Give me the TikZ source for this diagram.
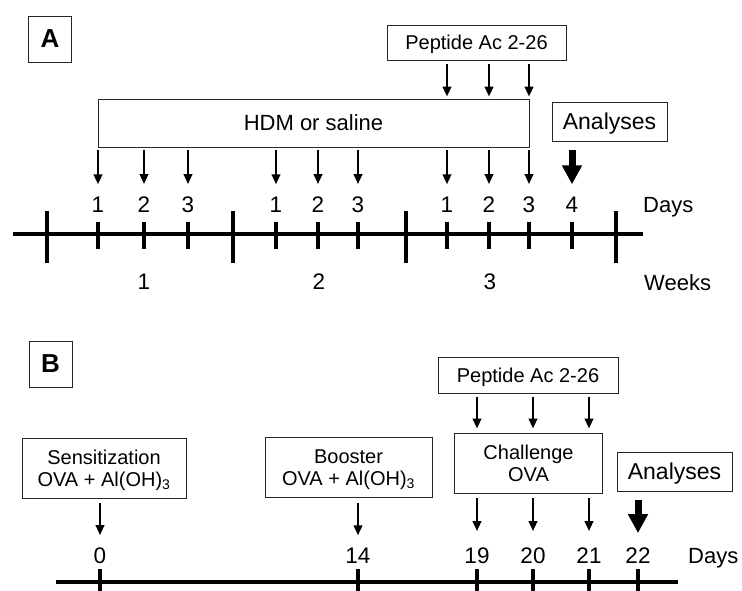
\documentclass[tikz,border=0pt]{standalone}
\usepackage{fontspec}
\setmainfont{Liberation Sans}
\usetikzlibrary{arrows.meta}

\begin{document}
\begin{tikzpicture}[x=1pt,y=-1pt,
    box/.style={draw=black!85,line width=0.9pt,inner sep=0pt,align=center,text depth=0pt},
    big/.style={font=\fontsize{22}{26}\selectfont},
    small/.style={font=\fontsize{20}{22.5}\selectfont},
    num/.style={font=\fontsize{22.5}{26}\selectfont,inner sep=0pt,anchor=base},
    panel/.style={box,font=\fontsize{26}{28}\selectfont\bfseries,minimum width=43pt,minimum height=46pt},
    arr/.style={line width=2.3pt,-{Triangle[width=8.5pt,length=10pt]}},
    bigarr/.style={line width=7pt,-{Triangle[width=19pt,length=19pt]}},
    axis/.style={line width=4.5pt},
    tick/.style={line width=3.2pt}]
    \useasboundingbox (0,0) rectangle (742,590);
    \clip (0,0) rectangle (742,590);

    % panel A
    \node[panel] (labA) at (50,39) {A};
    \node[box,small,minimum width=179pt,minimum height=35pt] (pepA) at (476.5,42.5) {Peptide Ac 2-26};
    \node[box,big,minimum width=431pt,minimum height=48pt] (hdm) at (313.5,123) {HDM or saline};
    \node[box,font=\fontsize{23}{26}\selectfont,minimum width=115pt,minimum height=39pt] (anA) at (609.5,121.5) {Analyses};

    \node[num] (w1d1) at (98,212) {1};
    \node[num] (w1d2) at (144,212) {2};
    \node[num] (w1d3) at (188,212) {3};
    \node[num] (w2d1) at (276,212) {1};
    \node[num] (w2d2) at (318,212) {2};
    \node[num] (w2d3) at (358,212) {3};
    \node[num] (w3d1) at (447,212) {1};
    \node[num] (w3d2) at (489,212) {2};
    \node[num] (w3d3) at (529,212) {3};
    \node[num] (w3d4) at (572,212) {4};
    \node[big,inner sep=0pt,anchor=base west] (daysA) at (643,212) {Days};

    \node[num] (wk1) at (144,289) {1};
    \node[num] (wk2) at (319,289) {2};
    \node[num] (wk3) at (490,289) {3};
    \node[big,inner sep=0pt,anchor=base west] (weeks) at (644,290) {Weeks};

    \draw[arr,shorten <=4pt,shorten >=2pt] (pepA.south -| w3d1) -- (hdm.north -| w3d1);
    \draw[arr,shorten <=4pt,shorten >=2pt] (pepA.south -| w3d2) -- (hdm.north -| w3d2);
    \draw[arr,shorten <=4pt,shorten >=2pt] (pepA.south -| w3d3) -- (hdm.north -| w3d3);

    \draw[arr,shorten <=3pt,shorten >=12pt] (hdm.south -| w1d1) -- (w1d1.north);
    \draw[arr,shorten <=3pt,shorten >=12pt] (hdm.south -| w1d2) -- (w1d2.north);
    \draw[arr,shorten <=3pt,shorten >=12pt] (hdm.south -| w1d3) -- (w1d3.north);
    \draw[arr,shorten <=3pt,shorten >=12pt] (hdm.south -| w2d1) -- (w2d1.north);
    \draw[arr,shorten <=3pt,shorten >=12pt] (hdm.south -| w2d2) -- (w2d2.north);
    \draw[arr,shorten <=3pt,shorten >=12pt] (hdm.south -| w2d3) -- (w2d3.north);
    \draw[arr,shorten <=3pt,shorten >=12pt] (hdm.south -| w3d1) -- (w3d1.north);
    \draw[arr,shorten <=3pt,shorten >=12pt] (hdm.south -| w3d2) -- (w3d2.north);
    \draw[arr,shorten <=3pt,shorten >=12pt] (hdm.south -| w3d3) -- (w3d3.north);
    \draw[bigarr,shorten <=9pt,shorten >=12pt] (anA.south -| w3d4) -- (w3d4.north);

    \draw[axis] (13,234) coordinate (axA) -- (643,234);
    \draw[tick] (47,211) -- (47,263);
    \draw[tick] (233,211) -- (233,263);
    \draw[tick] (406,211) -- (406,263);
    \draw[tick] (616,211) -- (616,263);
    \draw[tick] ([yshift=12pt]w1d1 |- axA) -- ([yshift=-15pt]w1d1 |- axA);
    \draw[tick] ([yshift=12pt]w1d2 |- axA) -- ([yshift=-15pt]w1d2 |- axA);
    \draw[tick] ([yshift=12pt]w1d3 |- axA) -- ([yshift=-15pt]w1d3 |- axA);
    \draw[tick] ([yshift=12pt]w2d1 |- axA) -- ([yshift=-15pt]w2d1 |- axA);
    \draw[tick] ([yshift=12pt]w2d2 |- axA) -- ([yshift=-15pt]w2d2 |- axA);
    \draw[tick] ([yshift=12pt]w2d3 |- axA) -- ([yshift=-15pt]w2d3 |- axA);
    \draw[tick] ([yshift=12pt]w3d1 |- axA) -- ([yshift=-15pt]w3d1 |- axA);
    \draw[tick] ([yshift=12pt]w3d2 |- axA) -- ([yshift=-15pt]w3d2 |- axA);
    \draw[tick] ([yshift=12pt]w3d3 |- axA) -- ([yshift=-15pt]w3d3 |- axA);
    \draw[tick] ([yshift=12pt]w3d4 |- axA) -- ([yshift=-15pt]w3d4 |- axA);

    % panel B
    \node[panel] (labB) at (50.5,364) {B};
    \node[box,small,minimum width=164pt,minimum height=60pt] (sens) at (104,468) {Sensitization\\OVA + Al(OH)\textsubscript{3}};
    \node[box,small,minimum width=167pt,minimum height=60pt] (boost) at (348.5,467.5) {Booster\\OVA + Al(OH)\textsubscript{3}};
    \node[box,small,minimum width=180pt,minimum height=36pt] (pepB) at (528,375) {Peptide Ac 2-26};
    \node[box,small,minimum width=148pt,minimum height=60pt] (chal) at (528.5,463) {Challenge\\OVA};
    \node[box,font=\fontsize{23}{26}\selectfont,minimum width=115pt,minimum height=39pt] (anB) at (674.5,471.5) {Analyses};

    \node[num] (d0) at (100,563) {0};
    \node[num] (d14) at (358,563) {14};
    \node[num] (d19) at (477,563) {19};
    \node[num] (d20) at (533,563) {20};
    \node[num] (d21) at (589,563) {21};
    \node[num] (d22) at (638,563) {22};
    \node[big,inner sep=0pt,anchor=base west] (daysB) at (688,563) {Days};

    \draw[arr,shorten <=5pt,shorten >=12pt] (sens.south -| d0) -- (d0.north);
    \draw[arr,shorten <=5pt,shorten >=12pt] (boost.south -| d14) -- (d14.north);
    \draw[arr,shorten <=4pt,shorten >=4pt] (pepB.south -| d19) -- (chal.north -| d19);
    \draw[arr,shorten <=4pt,shorten >=4pt] (pepB.south -| d20) -- (chal.north -| d20);
    \draw[arr,shorten <=4pt,shorten >=4pt] (pepB.south -| d21) -- (chal.north -| d21);
    \draw[arr,shorten <=5pt,shorten >=16pt] (chal.south -| d19) -- (d19.north);
    \draw[arr,shorten <=5pt,shorten >=16pt] (chal.south -| d20) -- (d20.north);
    \draw[arr,shorten <=5pt,shorten >=16pt] (chal.south -| d21) -- (d21.north);
    \draw[bigarr,shorten <=9pt,shorten >=14pt] (anB.south -| d22) -- (d22.north);

    \draw[axis] (56,582) coordinate (axB) -- (678,582);
    \draw[tick] ([yshift=13pt]d0 |- axB) -- ([yshift=-15pt]d0 |- axB);
    \draw[tick] ([yshift=13pt]d14 |- axB) -- ([yshift=-15pt]d14 |- axB);
    \draw[tick] ([yshift=13pt]d19 |- axB) -- ([yshift=-15pt]d19 |- axB);
    \draw[tick] ([yshift=13pt]d20 |- axB) -- ([yshift=-15pt]d20 |- axB);
    \draw[tick] ([yshift=13pt]d21 |- axB) -- ([yshift=-15pt]d21 |- axB);
    \draw[tick] ([yshift=13pt]d22 |- axB) -- ([yshift=-15pt]d22 |- axB);
\end{tikzpicture}
\end{document}
